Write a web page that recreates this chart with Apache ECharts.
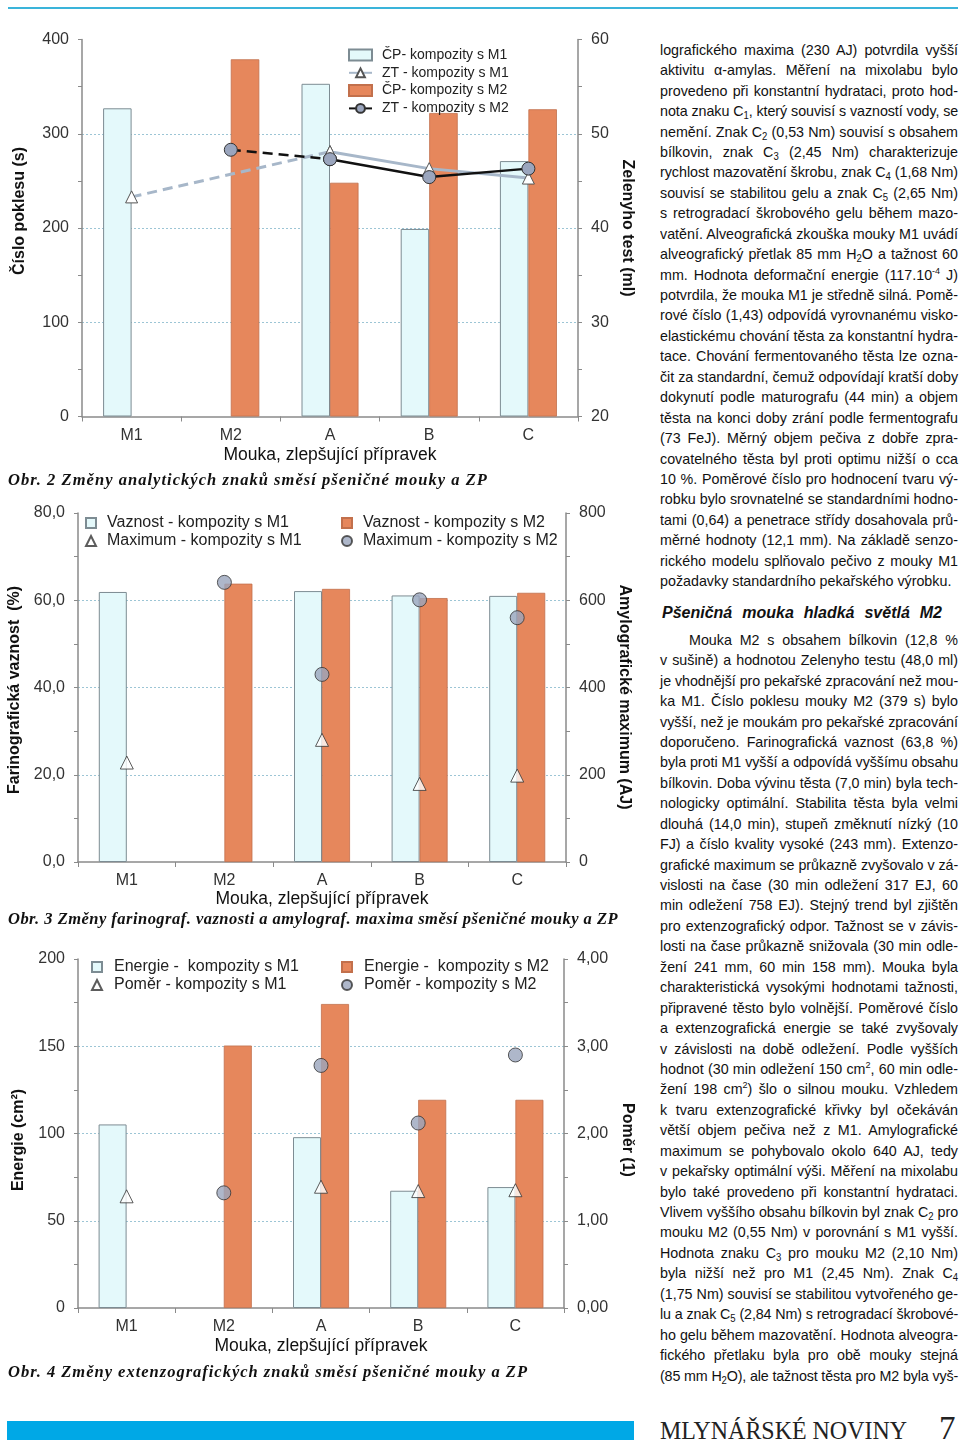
<!DOCTYPE html>
<html><head><meta charset="utf-8">
<script src="https://cdn.jsdelivr.net/npm/echarts@6/dist/echarts.min.js"></script>
<style>
html,body{margin:0;padding:0;background:#fff;}
body{width:960px;height:1447px;position:relative;overflow:hidden;}
#chart{position:absolute;left:0;top:0;width:650px;height:1400px;}
.topline{position:absolute;left:8px;top:7px;width:950px;height:2px;background:#3ab4da;}
.cap{position:absolute;left:8px;font-family:"Liberation Serif","Times New Roman",serif;font-weight:bold;font-style:italic;font-size:16.5px;line-height:20px;color:#111;white-space:nowrap;}
.col{position:absolute;left:660px;width:600px;font-family:"Liberation Sans",Arial,Helvetica,sans-serif;font-size:15px;color:#111;transform-origin:0 0;}
.ln{white-space:nowrap;height:20.45px;line-height:20.45px;box-sizing:border-box;}
.col.ready .ln{text-align:justify;text-align-last:justify;}
.col.ready .ln.last{text-align-last:left;}
sub{font-size:10px;vertical-align:baseline;position:relative;top:3px;line-height:0;}
sup{font-size:9.5px;vertical-align:baseline;position:relative;top:-6px;line-height:0;}
.head{position:absolute;left:662px;top:603px;width:280px;height:20px;line-height:20px;font-family:"Liberation Sans",Arial,sans-serif;font-weight:bold;font-style:italic;font-size:16px;color:#111;text-align:justify;text-align-last:justify;white-space:nowrap;}
.bar{position:absolute;left:7px;top:1421px;width:627px;height:19px;background:#00a8e6;}
.mag{position:absolute;left:660px;top:1418px;font-family:"Liberation Serif","Times New Roman",serif;font-size:26px;line-height:26px;color:#222;white-space:nowrap;transform-origin:0 0;}
.pg{position:absolute;left:939px;top:1412px;font-family:"Liberation Serif","Times New Roman",serif;font-size:33px;line-height:33px;color:#222;}
</style></head>
<body>
<div class="topline"></div>
<div id="chart"></div>
<div class="cap" data-w="480" style="top:470px">Obr. 2 Změny analytických znaků směsí pšeničné mouky a ZP</div>
<div class="cap" data-w="610" style="top:909px">Obr. 3 Změny farinograf. vaznosti a amylograf. maxima směsí pšeničné mouky a ZP</div>
<div class="cap" data-w="520" style="top:1362px">Obr. 4 Změny extenzografických znaků směsí pšeničné mouky a ZP</div>

<div class="col" id="p1" style="top:39.8px">
<div class="ln"><span>lografického maxima (230 AJ) potvrdila vyšší</span></div>
<div class="ln"><span>aktivitu α-amylas. Měření na mixolabu bylo</span></div>
<div class="ln"><span>provedeno při konstantní hydrataci, proto hod-</span></div>
<div class="ln"><span>nota znaku C<sub>1</sub>, který souvisí s vazností vody, se</span></div>
<div class="ln"><span>nemění. Znak C<sub>2</sub> (0,53 Nm) souvisí s obsahem</span></div>
<div class="ln"><span>bílkovin, znak C<sub>3</sub> (2,45 Nm) charakterizuje</span></div>
<div class="ln"><span>rychlost mazovatění škrobu, znak C<sub>4</sub> (1,68 Nm)</span></div>
<div class="ln"><span>souvisí se stabilitou gelu a znak C<sub>5</sub> (2,65 Nm)</span></div>
<div class="ln"><span>s retrogradací škrobového gelu během mazo-</span></div>
<div class="ln"><span>vatění. Alveografická zkouška mouky M1 uvádí</span></div>
<div class="ln"><span>alveografický přetlak 85 mm H<sub>2</sub>O a tažnost 60</span></div>
<div class="ln"><span>mm. Hodnota deformační energie (117.10<sup>-4</sup> J)</span></div>
<div class="ln"><span>potvrdila, že mouka M1 je středně silná. Pomě-</span></div>
<div class="ln"><span>rové číslo (1,43) odpovídá vyrovnanému visko-</span></div>
<div class="ln"><span>elastickému chování těsta za konstantní hydra-</span></div>
<div class="ln"><span>tace. Chování fermentovaného těsta lze ozna-</span></div>
<div class="ln"><span>čit za standardní, čemuž odpovídají kratší doby</span></div>
<div class="ln"><span>dokynutí podle maturografu (44 min) a objem</span></div>
<div class="ln"><span>těsta na konci doby zrání podle fermentografu</span></div>
<div class="ln"><span>(73 FeJ). Měrný objem pečiva z dobře zpra-</span></div>
<div class="ln"><span>covatelného těsta byl proti optimu nižší o cca</span></div>
<div class="ln"><span>10 %. Poměrové číslo pro hodnocení tvaru vý-</span></div>
<div class="ln"><span>robku bylo srovnatelné se standardními hodno-</span></div>
<div class="ln"><span>tami (0,64) a penetrace střídy dosahovala prů-</span></div>
<div class="ln"><span>měrné hodnoty (12,1 mm). Na základě senzo-</span></div>
<div class="ln"><span>rického modelu splňovalo pečivo z mouky M1</span></div>
<div class="ln last"><span>požadavky standardního pekařského výrobku.</span></div>
</div>
<div class="head">Pšeničná mouka hladká světlá M2</div>
<div class="col" id="p2" style="top:629.8px">
<div class="ln ind"><span>Mouka M2 s obsahem bílkovin (12,8 %</span></div>
<div class="ln"><span>v sušině) a hodnotou Zelenyho testu (48,0 ml)</span></div>
<div class="ln"><span>je vhodnější pro pekařské zpracování než mou-</span></div>
<div class="ln"><span>ka M1. Číslo poklesu mouky M2 (379 s) bylo</span></div>
<div class="ln"><span>vyšší, než je moukám pro pekařské zpracování</span></div>
<div class="ln"><span>doporučeno. Farinografická vaznost (63,8 %)</span></div>
<div class="ln"><span>byla proti M1 vyšší a odpovídá vyššímu obsahu</span></div>
<div class="ln"><span>bílkovin. Doba vývinu těsta (7,0 min) byla tech-</span></div>
<div class="ln"><span>nologicky optimální. Stabilita těsta byla velmi</span></div>
<div class="ln"><span>dlouhá (14,0 min), stupeň změknutí nízký (10</span></div>
<div class="ln"><span>FJ) a číslo kvality vysoké (243 mm). Extenzo-</span></div>
<div class="ln"><span>grafické maximum se průkazně zvyšovalo v zá-</span></div>
<div class="ln"><span>vislosti na čase (30 min odležení 317 EJ, 60</span></div>
<div class="ln"><span>min odležení 758 EJ). Stejný trend byl zjištěn</span></div>
<div class="ln"><span>pro extenzografický odpor. Tažnost se v závis-</span></div>
<div class="ln"><span>losti na čase průkazně snižovala (30 min odle-</span></div>
<div class="ln"><span>žení 241 mm, 60 min 158 mm). Mouka byla</span></div>
<div class="ln"><span>charakteristická vysokými hodnotami tažnosti,</span></div>
<div class="ln"><span>připravené těsto bylo volnější. Poměrové číslo</span></div>
<div class="ln"><span>a extenzografická energie se také zvyšovaly</span></div>
<div class="ln"><span>v závislosti na době odležení. Podle vyšších</span></div>
<div class="ln"><span>hodnot (30 min odležení 150 cm<sup>2</sup>, 60 min odle-</span></div>
<div class="ln"><span>žení 198 cm<sup>2</sup>) šlo o silnou mouku. Vzhledem</span></div>
<div class="ln"><span>k tvaru extenzografické křivky byl očekáván</span></div>
<div class="ln"><span>větší objem pečiva než z M1. Amylografické</span></div>
<div class="ln"><span>maximum se pohybovalo okolo 640 AJ, tedy</span></div>
<div class="ln"><span>v pekařsky optimální výši. Měření na mixolabu</span></div>
<div class="ln"><span>bylo také provedeno při konstantní hydrataci.</span></div>
<div class="ln"><span>Vlivem vyššího obsahu bílkovin byl znak C<sub>2</sub> pro</span></div>
<div class="ln"><span>mouku M2 (0,55 Nm) v porovnání s M1 vyšší.</span></div>
<div class="ln"><span>Hodnota znaku C<sub>3</sub> pro mouku M2 (2,10 Nm)</span></div>
<div class="ln"><span>byla nižší než pro M1 (2,45 Nm). Znak C<sub>4</sub></span></div>
<div class="ln"><span>(1,75 Nm) souvisí se stabilitou vytvořeného ge-</span></div>
<div class="ln"><span>lu a znak C<sub>5</sub> (2,84 Nm) s retrogradací škrobové-</span></div>
<div class="ln"><span>ho gelu během mazovatění. Hodnota alveogra-</span></div>
<div class="ln"><span>fického přetlaku byla pro obě mouky stejná</span></div>
<div class="ln"><span>(85 mm H<sub>2</sub>O), ale tažnost těsta pro M2 byla vyš-</span></div>
</div>
<div class="bar"></div>
<div class="mag" data-w="247">MLYNÁŘSKÉ NOVINY</div>
<div class="pg">7</div>

<script>
// ---------- data ----------
const categories = ['M1', 'M2', 'A', 'B', 'C'];
// Obr. 2
const cpM1 = [327, null, 353, 199, 271];      // Číslo poklesu (s), kompozity s M1
const cpM2 = [null, 379, 248, 322, 326];      // Číslo poklesu (s), kompozity s M2
const ztM1 = [43.3, null, 48.1, 46.3, 45.3];  // Zelenyho test (ml), M1
const ztM2 = [null, 48.3, 47.3, 45.4, 46.3];  // Zelenyho test (ml), M2
// Obr. 3
const vazM1 = [61.9, null, 62.1, 61.1, 61.0]; // Farinografická vaznost (%)
const vazM2 = [null, 63.8, 62.6, 60.5, 61.7];
const maxM1 = [228, null, 280, 179, 198];     // Amylografické maximum (AJ)
const maxM2 = [null, 641, 430, 601, 560];
// Obr. 4
const enM1 = [105.2, null, 97.9, 67.2, 69.3]; // Energie (cm2)
const enM2 = [null, 150.4, 174.2, 119.3, 119.3];
const pomM1 = [1.28, null, 1.39, 1.34, 1.35]; // Poměr (1)
const pomM2 = [null, 1.32, 2.78, 2.12, 2.90];
// tick labels
const t2Left = ['0', '100', '200', '300', '400'];
const t2Right = ['20', '30', '40', '50', '60'];
const t3Left = ['0,0', '20,0', '40,0', '60,0', '80,0'];
const t3Right = ['0', '200', '400', '600', '800'];
const t4Left = ['0', '50', '100', '150', '200'];
const t4Right = ['0,00', '1,00', '2,00', '3,00', '4,00'];

// ---------- text fitting ----------
(function () {
  const COLW = 298;
  const cols = [...document.querySelectorAll('.col')];
  const all = [];
  cols.forEach(col => col.querySelectorAll('.ln').forEach(el => {
    const sp = el.firstElementChild;
    const ind = el.classList.contains('ind') ? 29 : 0;
    all.push({ el: el, ind: ind, nat: sp.offsetWidth, avail: COLW - ind, n: sp.textContent.length,
      last: el.classList.contains('last') });
  }));
  const r = all.filter(d => !d.last).map(d => d.nat / d.avail).sort((a, b) => a - b);
  const s = 1 / r[Math.floor(r.length * 0.8)];
  cols.forEach(c => { c.style.width = (COLW / s) + 'px'; c.style.transform = 'scaleX(' + s + ')'; });
  all.forEach(d => {
    d.el.style.paddingLeft = (d.ind / s) + 'px';
    const A = d.avail / s;
    if (d.nat > A) d.el.style.letterSpacing = ((A - d.nat) / d.n) + 'px';
  });
  cols.forEach(c => c.classList.add('ready'));
  document.querySelectorAll('.cap').forEach(el => {
    const W = +el.dataset.w;
    const nat = el.getBoundingClientRect().width;
    el.style.letterSpacing = ((W - nat) / el.textContent.length) + 'px';
  });
  const mag = document.querySelector('.mag');
  mag.style.transform = 'scaleX(' + (+mag.dataset.w / mag.getBoundingClientRect().width) + ')';
})();

// ---------- chart ----------
const FONT = '"Liberation Sans", Arial, Helvetica, sans-serif';
const AX = '#8a8a8a';
const CYAN = '#e4f9fb', CYAN_B = '#7d8c93';
const ORANGE = '#e6875c', ORANGE_B = '#c2704c';
const GRID = '#9cc5d5';

function xAx(gi, nameGap) {
  return {
    type: 'category', gridIndex: gi, data: categories, boundaryGap: true,
    axisLine: { show: true, lineStyle: { color: AX, width: 1.5 } },
    axisTick: { show: true, length: 5, lineStyle: { color: AX } },
    axisLabel: { fontSize: 16, color: '#333', margin: 11, fontFamily: FONT },
    splitLine: { show: false },
    name: 'Mouka, zlepšující přípravek', nameLocation: 'middle', nameGap: nameGap,
    nameTextStyle: { fontSize: 17.5, color: '#111', fontFamily: FONT }
  };
}
function yAx(gi, pos, min, max, interval, labels, name, nameGap, split, pad) {
  return {
    type: 'value', gridIndex: gi, position: pos, min: min, max: max, interval: interval,
    axisLine: { show: true, lineStyle: { color: AX, width: 1.5 } },
    axisTick: { show: true, length: 4, lineStyle: { color: AX } },
    minorTick: { show: true, splitNumber: 2, length: 4, lineStyle: { color: AX } },
    axisLabel: { fontSize: 16, color: '#333', margin: 13, fontFamily: FONT,
      formatter: (v) => labels[Math.round((v - min) / interval)] },
    splitLine: { show: split, showMinLine: false, showMaxLine: false,
      lineStyle: { color: GRID, type: [2, 2], width: 1 } },
    name: name, nameLocation: 'middle', nameGap: nameGap, nameRotate: pos === 'left' ? 90 : -90,
    nameTextStyle: { fontSize: 16, fontWeight: 'bold', color: '#111', fontFamily: FONT, padding: pad }
  };
}
function bars(name, data, xi, yi, isM2, w) {
  return {
    name: name, type: 'bar', xAxisIndex: xi, yAxisIndex: yi, data: data,
    barWidth: w, barGap: '0%',
    itemStyle: isM2 ? { color: ORANGE, borderColor: ORANGE_B, borderWidth: 0.8 }
                    : { color: CYAN, borderColor: CYAN_B, borderWidth: 1 },
    emphasis: { disabled: true }, z: 2
  };
}
function pts(name, data, xi, yi, isM2) {
  return {
    name: name, type: 'scatter', xAxisIndex: xi, yAxisIndex: yi, data: data,
    symbol: isM2 ? 'circle' : 'triangle', symbolSize: isM2 ? 14 : 13,
    itemStyle: isM2 ? { color: '#9aa5bd', borderColor: '#333', borderWidth: 1 }
                    : { color: '#fff', borderColor: '#333', borderWidth: 1 },
    emphasis: { disabled: true }, z: 5
  };
}
const dashPart = arr => arr.map((v, i) => (i <= 2 ? v : null));
const solidPart = arr => arr.map((v, i) => (i >= 2 ? v : null));

const ZT1 = { line: { color: '#a7b7c9', width: 3 }, sym: 'triangle', size: 12,
  item: { color: '#fff', borderColor: '#555', borderWidth: 1 } };
const ZT2 = { line: { color: '#111', width: 2.5 }, sym: 'circle', size: 13,
  item: { color: '#9aa5bd', borderColor: '#333', borderWidth: 1 } };
function lineSeries(name, data, st, dashed) {
  return {
    name: name, type: 'line', xAxisIndex: 0, yAxisIndex: 1, data: data,
    connectNulls: dashed, symbol: st.sym, symbolSize: st.size, showSymbol: true,
    lineStyle: Object.assign({}, st.line, dashed ? { type: [10, 6] } : {}),
    itemStyle: st.item, emphasis: { disabled: true }, z: dashed ? 3 : 4
  };
}
function legendCol(left, top, items, itemW, itemH, fs, gap, pad) {
  return {
    orient: 'vertical', left: left, top: top, itemWidth: itemW, itemHeight: itemH, itemGap: gap,
    selectedMode: false, padding: 0,
    textStyle: { fontSize: fs, color: '#222', fontFamily: FONT, lineHeight: fs, padding: [0, 0, 0, pad] },
    data: items
  };
}

const option = {
  animation: false,
  grid: [
    { left: 82, top: 39.5, width: 496, height: 377, outerBoundsMode: 'none' },
    { left: 78, top: 513, width: 488, height: 349, outerBoundsMode: 'none' },
    { left: 78, top: 959, width: 486, height: 349, outerBoundsMode: 'none' }
  ],
  xAxis: [xAx(0, 30), xAx(1, 27), xAx(2, 29)],
  yAxis: [
    yAx(0, 'left', 0, 400, 100, t2Left, 'Číslo poklesu (s)', 54, true, [0, 0, 0, 34]),
    yAx(0, 'right', 20, 60, 10, t2Right, 'Zelenyho test (ml)', 37, false, 0),
    yAx(1, 'left', 0, 80, 20, t3Left, 'Farinografická vaznost  (%)', 51, true, [0, 5, 0, 0]),
    yAx(1, 'right', 0, 800, 200, t3Right, 'Amylografické maximum (AJ)', 49, false, [0, 0, 0, 19]),
    yAx(2, 'left', 0, 200, 50, t4Left, 'Energie (cm²)', 51, true, [0, 13, 0, 0]),
    yAx(2, 'right', 0, 4, 1, t4Right, 'Poměr (1)', 49, false, [0, 0, 0, 13])
  ],
  legend: [
    legendCol(348, 48, [
      { name: 'ČP- kompozity s M1', icon: 'rect' },
      { name: 'ZT - kompozity s M1' },
      { name: 'ČP- kompozity s M2', icon: 'rect' },
      { name: 'ZT - kompozity s M2' }
    ], 23, 11, 14, 3.8, 5),
    legendCol(85, 515, [
      { name: 'Vaznost - kompozity s M1', icon: 'rect' },
      { name: 'Maximum - kompozity s M1', icon: 'triangle' }
    ], 10, 10, 16, 2, 6),
    legendCol(341, 515, [
      { name: 'Vaznost - kompozity s M2', icon: 'rect' },
      { name: 'Maximum - kompozity s M2', icon: 'circle' }
    ], 10, 10, 16, 2, 6),
    legendCol(91, 959, [
      { name: 'Energie -  kompozity s M1', icon: 'rect' },
      { name: 'Poměr - kompozity s M1', icon: 'triangle' }
    ], 10, 10, 16, 2, 7),
    legendCol(341, 959, [
      { name: 'Energie -  kompozity s M2', icon: 'rect' },
      { name: 'Poměr - kompozity s M2', icon: 'circle' }
    ], 10, 10, 16, 2, 7)
  ],
  series: [
    bars('ČP- kompozity s M1', cpM1, 0, 0, false, 28.5),
    bars('ČP- kompozity s M2', cpM2, 0, 0, true, 28.5),
    lineSeries('ZT M1 dashed', dashPart(ztM1), ZT1, true),
    lineSeries('ZT - kompozity s M1', solidPart(ztM1), ZT1, false),
    lineSeries('ZT M2 dashed', dashPart(ztM2), ZT2, true),
    lineSeries('ZT - kompozity s M2', solidPart(ztM2), ZT2, false),

    bars('Vaznost - kompozity s M1', vazM1, 1, 2, false, 28),
    bars('Vaznost - kompozity s M2', vazM2, 1, 2, true, 28),
    pts('Maximum - kompozity s M1', maxM1, 1, 3, false),
    pts('Maximum - kompozity s M2', maxM2, 1, 3, true),

    bars('Energie -  kompozity s M1', enM1, 2, 4, false, 28),
    bars('Energie -  kompozity s M2', enM2, 2, 4, true, 28),
    pts('Poměr - kompozity s M1', pomM1, 2, 5, false),
    pts('Poměr - kompozity s M2', pomM2, 2, 5, true)
  ]
};
const chart = echarts.init(document.getElementById('chart'), null, { renderer: 'canvas' });
chart.setOption(option);
</script>
</body></html>
